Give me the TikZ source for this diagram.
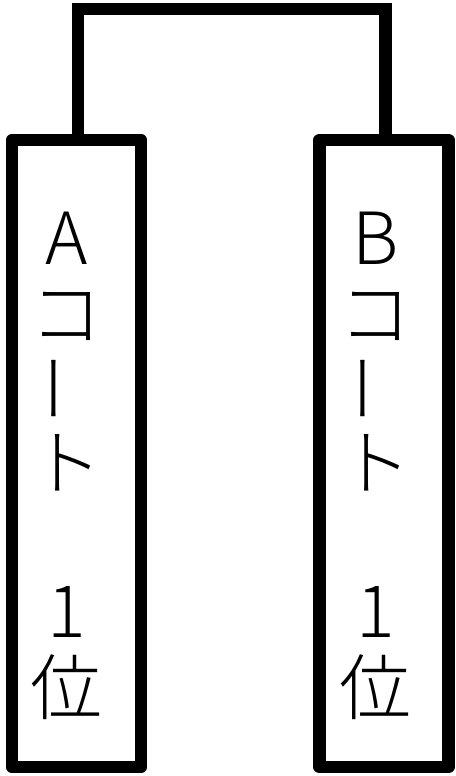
\documentclass[tikz,border=0pt]{standalone}
\usepackage{fontspec}
\setmainfont{Noto Sans CJK JP}[UprightFont=* Light]
\begin{document}
\begin{tikzpicture}[x=1pt,y=-1pt,
  court/.style={draw=black,line width=12.5pt,line join=round,minimum width=129pt,minimum height=627pt,inner sep=0pt,outer sep=0pt},
  link/.style={draw=black,line width=12.5pt,line join=miter},
  ch/.style={inner sep=0pt,outer sep=0pt,font=\fontsize{72}{72}\selectfont}]
\useasboundingbox[fill=white] (0,0) rectangle (455,776);
\node[court] (boxA) at (76.5,453.5) {};
\node[court] (boxB) at (384,453.5) {};
\coordinate (tl) at (78,9);
\coordinate (tr) at (385.5,9);
\draw[link] (tl |- boxA.north) -- (tl) -- (tr) -- (tr |- boxB.north);
% left column
\node[ch] (a1) at (66.5,238.5) {A};
\node[ch] (a2) at (66.5,316) {コ};
\node[ch,rotate=90] (a3) at (66.5,388) {ー};
\node[ch] (a4) at (66.5,462.5) {ト};
\node[ch] (a5) at (66.5,612) {1};
\node[ch] (a6) at (66.5,687.5) {位};
% right column
\node[ch] (b1) at (375.5,238.5) {B};
\node[ch] (b2) at (375.5,316) {コ};
\node[ch,rotate=90] (b3) at (375.5,388) {ー};
\node[ch] (b4) at (375.5,462.5) {ト};
\node[ch] (b5) at (375.5,612) {1};
\node[ch] (b6) at (375.5,687.5) {位};
\end{tikzpicture}
\end{document}
